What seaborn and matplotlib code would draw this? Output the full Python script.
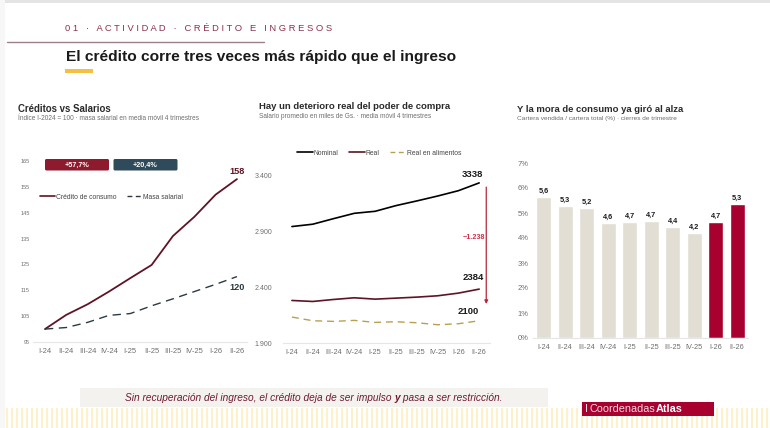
import matplotlib
matplotlib.use("Agg")
import matplotlib.pyplot as plt
import seaborn as sns
import numpy as np
import pandas as pd
from matplotlib.patches import FancyBboxPatch, Rectangle
from matplotlib.lines import Line2D

sns.set_theme(style="white")
plt.rcParams['font.family'] = ['Liberation Sans', 'DejaVu Sans']

quarters = ["I-24","II-24","III-24","IV-24","I-25","II-25","III-25","IV-25","I-26","II-26"]
credito = [100, 105.5, 109.6, 114.5, 119.7, 124.8, 136, 143.4, 152, 158]
masa = [100, 100.6, 102.6, 105.3, 106, 109, 111.7, 114.5, 117.3, 120.3]
idx_ticks = [95, 105, 115, 125, 135, 145, 155, 165]
nominal = [2946, 2967, 3017, 3065, 3083, 3134, 3176, 3220, 3268, 3338]
real = [2282, 2273, 2291, 2306, 2294, 2303, 2312, 2324, 2348, 2384]
alimentos = [2133, 2100, 2094, 2103, 2085, 2091, 2082, 2064, 2073, 2100]
sal_ticks = [1900, 2400, 2900, 3400]
sal_labels = ["1.900", "2.400", "2.900", "3.400"]
mora = [5.65, 5.3, 5.2, 4.6, 4.65, 4.7, 4.45, 4.2, 4.65, 5.35]
mora_labels = ["5,6","5,3","5,2","4,6","4,7","4,7","4,4","4,2","4,7","5,3"]
mora_ticks = [0,1,2,3,4,5,6,7]

W, H = 770, 428
fig = plt.figure(figsize=(W/100, H/100), dpi=100, facecolor="white")

MAROON = "#5e1424"
CRIMSON = "#a8002f"
GREY = "#6e6e6e"
BEIGE = "#e2ded4"

def axes_px(l, r, top, bot):
    return fig.add_axes([l/W, 1-bot/H, (r-l)/W, (bot-top)/H], facecolor="none")

bg = fig.add_axes([0, 0, 1, 1], zorder=-5)
bg.set_xlim(0, W); bg.set_ylim(H, 0); bg.axis("off")
bg.add_patch(Rectangle((0, 0), W, 2.5, color="#e4e4e4", lw=0))
bg.add_patch(Rectangle((0, 0), 5, H, color="#f7f7f7", lw=0))
bg.vlines(np.arange(7, W, 5.0), 408, 428, color="#fcf1cb", lw=1.5)
bg.add_patch(Rectangle((80, 388), 468, 19, color="#f3f2ee", lw=0))
bg.plot([7, 264], [42, 42], color="#9c7f8a", lw=1)
bg.add_patch(Rectangle((65, 69), 28, 3.5, color="#f4c042", lw=0))
bg.add_patch(Rectangle((582, 402), 132, 14, color=CRIMSON, lw=0, zorder=3))

def ptext(x, y, s, **kw):
    kw.setdefault("va", "center")
    return bg.text(x, y, s, **kw)

ptext(65, 28, "0 1   ·   A C T I V I D A D   ·   C R É D I T O   E   I N G R E S O S", color="#8a2f4a", fontsize=6.78)
ptext(66, 56.5, "El crédito corre tres veces más rápido que el ingreso", color="#1a1a1a", fontsize=11.15, fontweight="bold")
ptext(18, 108.5, "Créditos vs Salarios", color="#2a2a2a", fontsize=6.9, fontweight="bold")
ptext(18, 118, "Índice I-2024 = 100 · masa salarial en media móvil 4 trimestres", color=GREY, fontsize=4.72)
ptext(259, 106.5, "Hay un deterioro real del poder de compra", color="#2a2a2a", fontsize=6.8, fontweight="bold")
ptext(259, 116, "Salario promedio en miles de Gs. · media móvil 4 trimestres", color=GREY, fontsize=4.7)
ptext(517, 109, "Y la mora de consumo ya giró al alza", color="#2a2a2a", fontsize=6.8, fontweight="bold")
ptext(517, 118.5, "Cartera vendida / cartera total (%) · cierres de trimestre", color=GREY, fontsize=4.65)

# closing sentence: regular italic with a bold "y"
renderer = fig.canvas.get_renderer()
cursor = 125.0
for part, weight in [("Sin recuperación del ingreso, el crédito deja de ser impulso ", "normal"),
                     ("y", "bold"),
                     (" pasa a ser restricción.", "normal")]:
    t = ptext(cursor, 398, part.replace(" ", "\u00a0"), color="#6e1a30", fontsize=7.3, fontstyle="italic", fontweight=weight)
    cursor += t.get_window_extent(renderer).width

ptext(585, 409, "I", color="#f3d9df", fontsize=8, zorder=4)
ptext(589, 409, "Coordenadas", color="#f3d9df", fontsize=7.8, zorder=4)
ptext(656, 409, "Atlas", color="white", fontsize=7.8, fontweight="bold", zorder=4)

def style(ax, ticks, labels, ysize, xsize):
    sns.despine(ax=ax, left=True)
    ax.spines["bottom"].set_color("#e6e6e6")
    ax.spines["bottom"].set_linewidth(0.8)
    ax.set_yticks(ticks); ax.set_yticklabels(labels)
    ax.set_xticks(range(len(quarters))); ax.set_xticklabels(quarters)
    ax.tick_params(axis="y", length=0, labelsize=ysize, labelcolor=GREY, pad=2)
    ax.tick_params(axis="x", length=0, labelsize=xsize, labelcolor=GREY, pad=3.5)
    ax.set_xlabel(""); ax.set_ylabel("")

# Panel 1
ax1 = axes_px(33, 247, 161, 342)
df1 = pd.DataFrame({"q": range(10), "Crédito de consumo": credito, "Masa salarial": masa})
sns.lineplot(data=df1, x="q", y="Crédito de consumo", color=MAROON, lw=1.3, ax=ax1, clip_on=False)
sns.lineplot(data=df1, x="q", y="Masa salarial", color="#2b3a42", lw=1.0, ax=ax1, dashes=False, linestyle=(0, (6, 4)))
ax1.set_xlim(-0.56, 9.47); ax1.set_ylim(95, 165)
style(ax1, idx_ticks, [str(t) for t in idx_ticks], 4.0, 5.5)
ax1.tick_params(axis="y", pad=2.5)
ax1.tick_params(axis="x", pad=4.2)
ax1.annotate("158", (9, credito[-1]), xytext=(0, 3.5), textcoords="offset points", ha="center", fontsize=6.6, fontweight="bold", color=MAROON)
ax1.annotate("120", (9, masa[-1]), xytext=(0, -9.5), textcoords="offset points", ha="center", fontsize=6.6, fontweight="bold", color="#2b3a42")
ax1.legend(handles=[Line2D([], [], color=MAROON, lw=1.2), Line2D([], [], color="#2b3a42", lw=1.0, ls=(0, (3.5, 2.5)))],
           labels=["Crédito de consumo", "Masa salarial"], ncol=2, frameon=False, fontsize=4.85,
           loc="center left", bbox_to_anchor=(0.035, 0.80), handlelength=2.2, handletextpad=0.15, columnspacing=1.5,
           labelcolor="#444444", borderpad=0, borderaxespad=0)

for x0, txt, col in [(45, "+57,7%", "#8e1a2e"), (113.5, "+20,4%", "#2f4a5a")]:
    bg.add_patch(FancyBboxPatch((x0+1.5, 160.5), 61, 8.5, boxstyle="round,pad=1.5", color=col, lw=0))
    ptext(x0+32, 165, txt, color="white", fontsize=5.2, fontweight="bold", ha="center")

# Panel 2
ax2 = axes_px(283, 490, 176, 343)
df2 = pd.DataFrame({"q": range(10), "Nominal": nominal, "Real": real, "Real en alimentos": alimentos})
sns.lineplot(data=df2, x="q", y="Nominal", color="black", lw=1.2, ax=ax2)
sns.lineplot(data=df2, x="q", y="Real", color=MAROON, lw=1.2, ax=ax2)
sns.lineplot(data=df2, x="q", y="Real en alimentos", color="#b8a050", lw=1.0, ax=ax2, linestyle=(0, (5, 3.5)))
ax2.set_xlim(-0.43, 9.52); ax2.set_ylim(1900, 3400)
style(ax2, sal_ticks, sal_labels, 5.0, 5.3)
ax2.tick_params(axis="y", pad=8)
ax2.tick_params(axis="x", pad=4.2)
ax2.annotate("3338", (9, nominal[-1]), xytext=(-5, 4.5), textcoords="offset points", ha="center", fontsize=6.8, fontweight="bold", color="#1a1a1a", annotation_clip=False)
ax2.annotate("2384", (9, real[-1]), xytext=(-4, 6.5), textcoords="offset points", ha="center", fontsize=6.8, fontweight="bold", color="#1a1a1a")
ax2.annotate("2100", (9, alimentos[-1]), xytext=(-8, 5), textcoords="offset points", ha="center", fontsize=6.8, fontweight="bold", color="#1a1a1a")
ax2.annotate("", xy=(9.34, 2250), xytext=(9.34, 3300), annotation_clip=False,
             arrowprops=dict(arrowstyle="-|>", color="#b5283c", lw=0.9, mutation_scale=5, shrinkA=0, shrinkB=0))
ax2.text(9.3, 2850, "−1.238", color="#d0304a", fontsize=5.2, fontweight="bold", ha="right", va="center")
ax2.legend(handles=[Line2D([], [], color="black", lw=1.2), Line2D([], [], color=MAROON, lw=1.2),
                    Line2D([], [], color="#b8a050", lw=1.0, ls=(0, (3.5, 2.5)))],
           labels=["Nominal", "Real", "Real en alimentos"], ncol=3, frameon=False, fontsize=4.85,
           loc="center left", bbox_to_anchor=(0.068, 1.137), handlelength=2.4, handletextpad=0.1, columnspacing=1.5,
           labelcolor="#444444", borderpad=0, borderaxespad=0)

# Panel 3
ax3 = axes_px(533, 748, 163, 338)
df3 = pd.DataFrame({"q": quarters, "mora": mora})
palette = [BEIGE]*8 + [CRIMSON]*2
sns.barplot(data=df3, x="q", y="mora", hue="q", palette=palette, legend=False, width=0.68, ax=ax3, saturation=1)
ax3.set_xlim(-0.5, 9.5); ax3.set_ylim(0, 7)
style(ax3, mora_ticks, [f"{t}%" for t in mora_ticks], 5.5, 5.3)
ax3.tick_params(axis="y", pad=3)
ax3.tick_params(axis="x", pad=4.2)
for i, (v, s) in enumerate(zip(mora, mora_labels)):
    ax3.annotate(s, (i, v), xytext=(0, 1.5), textcoords="offset points", ha="center", va="bottom", fontsize=5.3, fontweight="bold", color="#1a1a1a")

fig.savefig("out.png", dpi=100)
